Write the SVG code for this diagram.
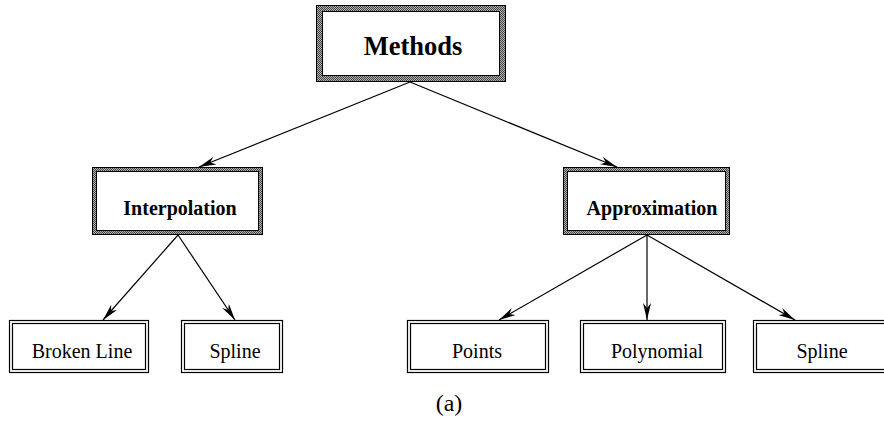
<svg xmlns="http://www.w3.org/2000/svg" width="884" height="424" viewBox="0 0 884 424">
<style>
text{font-family:'Liberation Serif','Times New Roman',serif;fill:#000;text-anchor:middle}
.b{font-weight:bold}
.r{font-size:20px}
.ln{fill:none;stroke:#000;stroke-width:1.2}
.hat{fill:url(#h);stroke:#000;stroke-width:1}
.in{fill:#fff;stroke:#000;stroke-width:1}
.dbl{fill:#fff;stroke:#000;stroke-width:1.2}
</style>
<defs>
<pattern id="h" width="2" height="2" patternUnits="userSpaceOnUse">
<rect width="2" height="2" fill="#b0b0b0"/>
<rect width="1" height="1" fill="#444"/>
<rect x="1" y="1" width="1" height="1" fill="#444"/>
</pattern>
<marker id="a" viewBox="0 0 17 8" refX="17" refY="4" markerWidth="17" markerHeight="8" markerUnits="userSpaceOnUse" orient="auto">
<path d="M0,0 L17,4 L0,8 L5,4 Z" fill="#000"/>
</marker>
</defs>
<g id="connectors">
<line class="ln" x1="410" y1="82" x2="199" y2="167" marker-end="url(#a)"/>
<line class="ln" x1="410" y1="82" x2="617" y2="167" marker-end="url(#a)"/>
<line class="ln" x1="178" y1="235" x2="103" y2="320" marker-end="url(#a)"/>
<line class="ln" x1="178" y1="235" x2="235" y2="320" marker-end="url(#a)"/>
<line class="ln" x1="647" y1="235" x2="499" y2="320" marker-end="url(#a)"/>
<line class="ln" x1="647" y1="235" x2="647" y2="320" marker-end="url(#a)"/>
<line class="ln" x1="647" y1="235" x2="795" y2="320" marker-end="url(#a)"/>
</g>
<g id="methods">
<rect class="hat" x="316.5" y="5.5" width="189" height="76"/>
<rect class="in" x="322.5" y="11.5" width="177" height="64"/>
<text class="b" x="413" y="55" font-size="26.5">Methods</text>
</g>
<g id="interpolation">
<rect class="hat" x="92.5" y="167.5" width="170" height="67"/>
<rect class="in" x="96.5" y="171.5" width="162" height="59"/>
<text class="b" x="180" y="215" font-size="20">Interpolation</text>
</g>
<g id="approximation">
<rect class="hat" x="563.5" y="167.5" width="166" height="67"/>
<rect class="in" x="567.5" y="171.5" width="158" height="59"/>
<text class="b" x="652" y="215" font-size="20">Approximation</text>
</g>
<g id="broken-line">
<rect class="dbl" x="9.5" y="320.5" width="139" height="52"/>
<rect class="dbl" x="12.5" y="323.5" width="133" height="46"/>
<text class="r" x="82" y="358">Broken Line</text>
</g>
<g id="spline1">
<rect class="dbl" x="181.5" y="320.5" width="101" height="52"/>
<rect class="dbl" x="184.5" y="323.5" width="95" height="46"/>
<text class="r" x="235" y="358">Spline</text>
</g>
<g id="points">
<rect class="dbl" x="407.5" y="320.5" width="141" height="52"/>
<rect class="dbl" x="410.5" y="323.5" width="135" height="46"/>
<text class="r" x="477" y="358">Points</text>
</g>
<g id="polynomial">
<rect class="dbl" x="580.5" y="320.5" width="145" height="52"/>
<rect class="dbl" x="583.5" y="323.5" width="139" height="46"/>
<text class="r" x="657" y="358">Polynomial</text>
</g>
<g id="spline2">
<rect class="dbl" x="753.5" y="320.5" width="140" height="52"/>
<rect class="dbl" x="756.5" y="323.5" width="134" height="46"/>
<text class="r" x="822" y="358">Spline</text>
</g>
<text x="449" y="411" font-size="24">(a)</text>
</svg>
